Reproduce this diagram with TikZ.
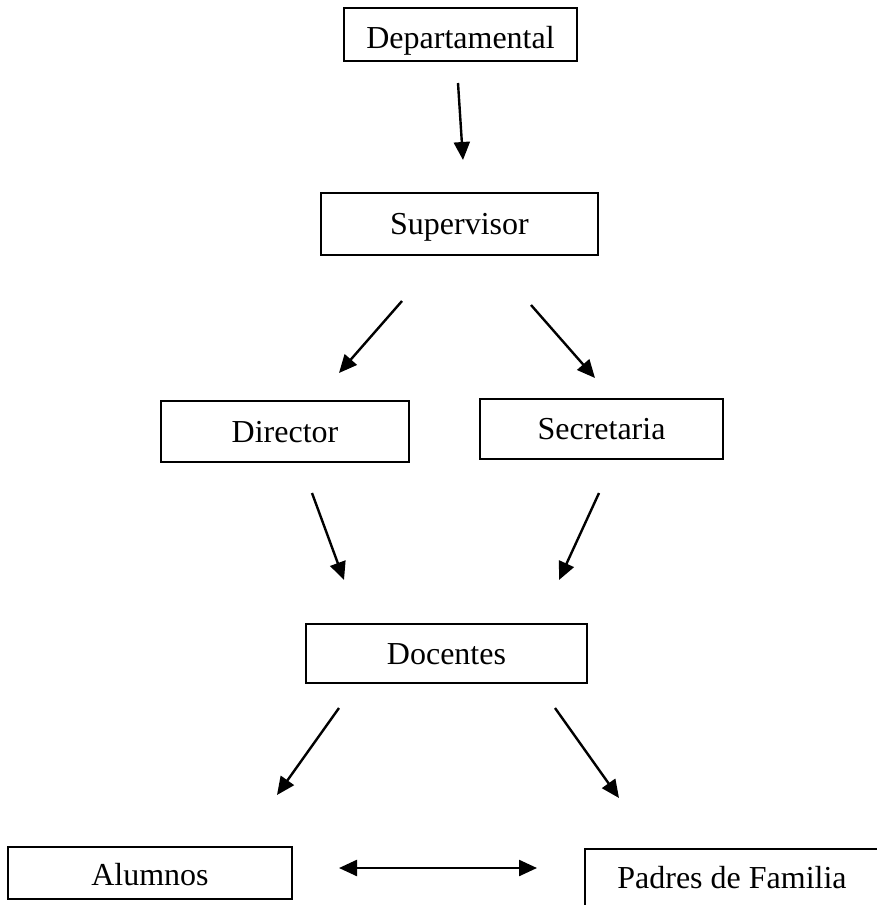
\documentclass[tikz,border=0pt]{standalone}
\usepackage{fontspec}
\setmainfont{Liberation Serif}
\usetikzlibrary{arrows.meta}
\tikzset{
  box/.style={draw=black, line width=1.7pt, rectangle, inner sep=0pt,
    font=\fontsize{32}{38}\selectfont, text height=21pt, text depth=0pt},
  tip/.tip={Triangle[length=18pt,width=16pt]},
  arr/.style={draw=black, line width=2.4pt, -tip},
  darr/.style={draw=black, line width=2.4pt, tip-tip}
}
\begin{document}
\begin{tikzpicture}[x=1pt,y=-1pt]
\clip (0,0) rectangle (877,905);
\fill[white] (0,0) rectangle (877,905);
% boxes
\node[box, minimum width=233pt, minimum height=53pt, text height=28pt] (dep) at (460.5,34.5) {Departamental};
\node[box, minimum width=277pt, minimum height=62pt] (sup) at (459.5,224) {Supervisor};
\node[box, minimum width=248pt, minimum height=61pt] (dir) at (285,431.5) {Director};
\node[box, minimum width=243pt, minimum height=60pt] (sec) at (601.5,429) {Secretaria};
\node[box, minimum width=281pt, minimum height=59pt] (doc) at (446.5,653.5) {Docentes};
\node[box, minimum width=284pt, minimum height=52pt, text height=24pt] (alu) at (150,873) {Alumnos};
\node[box, minimum width=294pt, minimum height=57pt] (pad) at (732,877.5) {Padres de Familia};
% arrow end points
\coordinate (a1s) at (458,83);  \coordinate (a1e) at (463,160);
\coordinate (a2s) at (402,301); \coordinate (a2e) at (339,373);
\coordinate (a3s) at (531,305); \coordinate (a3e) at (595,378);
\coordinate (a4s) at (312,493); \coordinate (a4e) at (344,580);
\coordinate (a5s) at (599,493); \coordinate (a5e) at (559,580);
\coordinate (a6s) at (339,708); \coordinate (a6e) at (277,795);
\coordinate (a7s) at (555,708); \coordinate (a7e) at (619,798);
\coordinate (a8s) at (339,868); \coordinate (a8e) at (537,868);
% arrows
\draw[arr] (a1s) -- (a1e);
\draw[arr] (a2s) -- (a2e);
\draw[arr] (a3s) -- (a3e);
\draw[arr] (a4s) -- (a4e);
\draw[arr] (a5s) -- (a5e);
\draw[arr] (a6s) -- (a6e);
\draw[arr] (a7s) -- (a7e);
\draw[darr] (a8s) -- (a8e);
\end{tikzpicture}
\end{document}
